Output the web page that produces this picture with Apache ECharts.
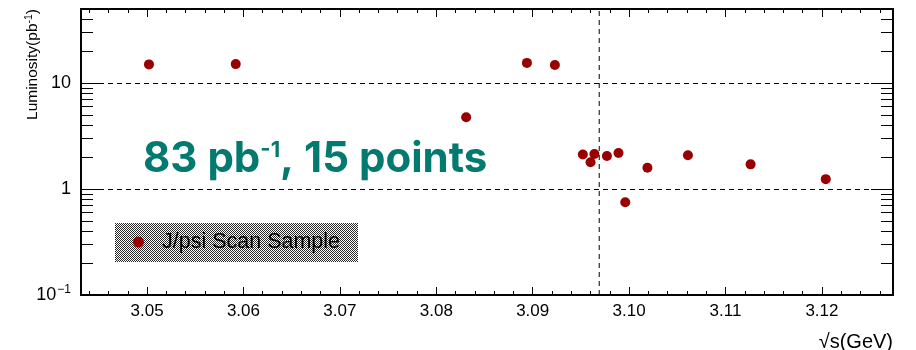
<!DOCTYPE html>
<html><head><meta charset="utf-8">
<script src="https://cdn.jsdelivr.net/npm/echarts@6/dist/echarts.min.js"></script>
<style>html,body{margin:0;padding:0;background:#fff}#c{width:916px;height:350px}</style>
</head><body><div id="c"></div>
<script>
// ---- data ----
const energies = [3.0502, 3.0592, 3.0831, 3.0894, 3.0923, 3.0952, 3.0960, 3.0964, 3.0977, 3.0989, 3.0996, 3.1019, 3.1061, 3.1126, 3.1204];
const luminosity = [15.0, 15.1, 4.75, 15.5, 14.8, 2.12, 1.79, 2.14, 2.05, 2.19, 0.75, 1.59, 2.08, 1.71, 1.24];
const xRange = [3.04315, 3.12737];
const yRange = [0.1, 50];
const xMajorTicks = [3.05, 3.06, 3.07, 3.08, 3.09, 3.10, 3.11, 3.12];
const xMinorTicks = [3.044, 3.046, 3.048, 3.052, 3.054, 3.056, 3.058, 3.062, 3.064, 3.066, 3.068, 3.072, 3.074, 3.076, 3.078,
  3.082, 3.084, 3.086, 3.088, 3.092, 3.094, 3.096, 3.098, 3.102, 3.104, 3.106, 3.108, 3.112, 3.114, 3.116, 3.118, 3.122, 3.124, 3.126];
const yMajorTicks = [0.1, 1, 10];
const yMinorTicks = [0.2, 0.3, 0.4, 0.5, 0.6, 0.7, 0.8, 0.9, 2, 3, 4, 5, 6, 7, 8, 9, 20, 30, 40];
const jpsiMass = 3.0969;
const seriesName = 'J/psi Scan Sample';
const yTitle = ['Luminosity(pb', '-1', ')'];
const xTitle = '√s(GeV)';
const summaryText = ['83 pb', '-1', ', 15 points'];

// ---- chart ----
const chart = echarts.init(document.getElementById('c'), null, {renderer: 'canvas'});
const FONT = '"Liberation Sans", Arial, Helvetica, sans-serif';
const black = '#000';

function xAx(pos, ticks, len, withLabels) {
  return {
    type: 'value', position: pos, min: xRange[0], max: xRange[1],
    axisLine: {show: true, lineStyle: {color: black, width: 1.5}},
    axisTick: {show: true, inside: true, length: len, customValues: ticks, lineStyle: {color: black, width: 1}},
    axisLabel: withLabels ? {show: true, customValues: xMajorTicks, formatter: v => v.toFixed(2),
      fontFamily: FONT, fontSize: 17, color: black, margin: 8} : {show: false},
    splitLine: {show: false}
  };
}
function yAx(pos, ticks, len, withLabels, split) {
  return {
    type: 'log', logBase: 10, position: pos, min: yRange[0], max: yRange[1],
    axisLine: {show: true, lineStyle: {color: black, width: 1.5}},
    axisTick: {show: true, inside: true, length: len, customValues: ticks, lineStyle: {color: black, width: 1}},
    axisLabel: withLabels ? {show: true, customValues: yMajorTicks,
      formatter: v => (Math.abs(v - 0.1) < 1e-9 ? '10{s|−1}' : String(Math.round(v))),
      fontFamily: FONT, fontSize: 18, color: black, margin: 10,
      rich: {s: {fontFamily: FONT, fontSize: 12, color: black, padding: [0, 0, 10, 1]}}} : {show: false},
    splitLine: split ? {show: true, lineStyle: {color: black, width: 1, type: [5, 4]}} : {show: false}
  };
}

// checkered fill for legend box
const pc = document.createElement('canvas');
pc.width = 2; pc.height = 2;
const pctx = pc.getContext('2d');
pctx.fillStyle = '#fff'; pctx.fillRect(0, 0, 2, 2);
pctx.fillStyle = '#2a2a2a'; pctx.fillRect(0, 0, 1, 1); pctx.fillRect(1, 1, 1, 1);

const option = {
  backgroundColor: '#fff',
  animation: false,
  grid: {left: 81, right: 23, top: 9, bottom: 55, show: true, borderColor: black, borderWidth: 1.5, backgroundColor: 'transparent'},
  xAxis: [
    xAx('bottom', xMajorTicks, 8, true),
    xAx('bottom', xMinorTicks, 4, false),
    xAx('top', xMajorTicks, 8, false),
    xAx('top', xMinorTicks, 4, false)
  ],
  yAxis: [
    yAx('left', yMajorTicks, 22, true, true),
    yAx('left', yMinorTicks, 12, false, false),
    yAx('right', yMajorTicks, 22, false, false),
    yAx('right', yMinorTicks, 12, false, false)
  ],
  legend: {
    data: [seriesName], left: 133, top: 231, icon: 'circle', itemWidth: 11, itemHeight: 11,
    z: 10, padding: 0,
    textStyle: {fontFamily: FONT, fontSize: 21.5, color: black, padding: [0, 0, 0, 13]}
  },
  graphic: [
    {type: 'rect', z: 1, shape: {x: 115, y: 223, width: 243, height: 39},
      style: {fill: {image: pc, repeat: 'repeat'}}},
    {type: 'text', z: 5, x: 143, y: 137,
      style: {text: '{a|' + summaryText[0] + '}{s|' + summaryText[1] + '}{a|' + summaryText[2] + '}',
        rich: {
          a: {fontFamily: 'Inter', fontWeight: 'bold', fontSize: 42, fill: '#037a70', lineHeight: 45},
          s: {fontFamily: 'Inter', fontWeight: 'bold', fontSize: 22, fill: '#037a70', lineHeight: 45, padding: [0, 0, 18, 0]}
        }}},
    {type: 'text', z: 5, x: 33, y: 9, rotation: Math.PI / 2,
      style: {text: yTitle[0] + '{s|' + yTitle[1] + '}' + yTitle[2], fontFamily: FONT, fontSize: 15.5, fill: black,
        align: 'right', verticalAlign: 'middle',
        rich: {s: {fontFamily: FONT, fontSize: 10.5, fill: black, padding: [0, 0, 8, 0]}}}},
    {type: 'text', z: 5, x: 893, y: 342,
      style: {text: xTitle, fontFamily: FONT, fontSize: 20, fill: black, align: 'right', verticalAlign: 'middle'}}
  ],
  series: [{
    name: seriesName, type: 'scatter', xAxisIndex: 0, yAxisIndex: 0,
    symbol: 'circle', symbolSize: 10, itemStyle: {color: '#990000', opacity: 1},
    data: energies.map((e, i) => [e, luminosity[i]])
  }, {
    name: 'J/psi mass', type: 'line', xAxisIndex: 0, yAxisIndex: 0, silent: true,
    symbol: 'none', lineStyle: {color: black, width: 1, type: [5, 4]},
    data: [[jpsiMass, yRange[0]], [jpsiMass, yRange[1]]]
  }]
};
chart.setOption(option);
</script>
</body></html>
